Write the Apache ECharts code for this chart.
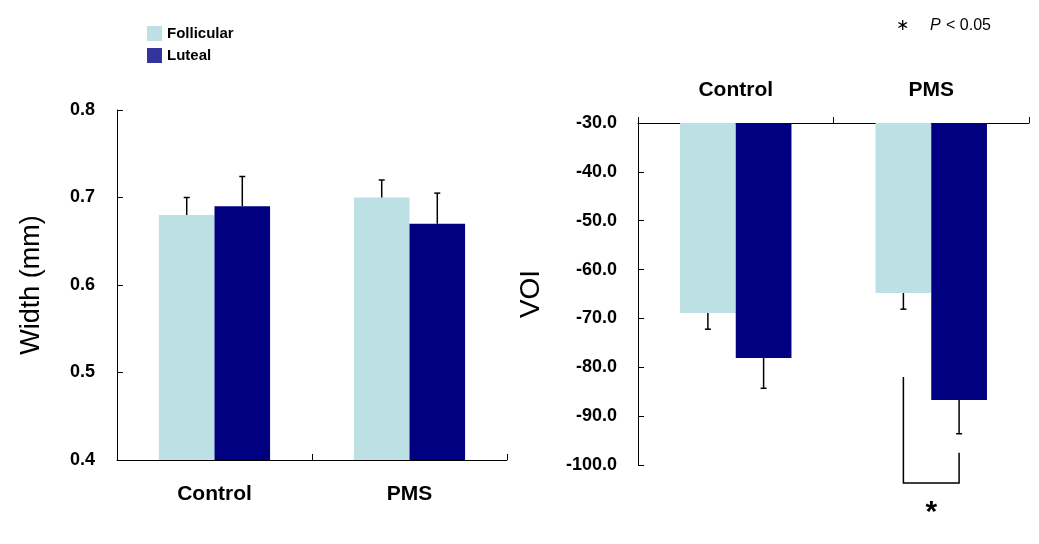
<!DOCTYPE html>
<html>
<head>
<meta charset="utf-8">
<script src="https://cdn.jsdelivr.net/npm/echarts@6/dist/echarts.min.js"></script>
<style>
html,body{margin:0;padding:0;background:#fff;}
#c{width:1039px;height:544px;}
</style>
</head>
<body>
<div id="c"></div>
<script>
const categories = ['Control', 'PMS'];
const seriesNames = ['Follicular', 'Luteal'];
const widthFollicular = [0.68, 0.70];
const widthLuteal = [0.69, 0.67];
const widthFollicularErr = [0.02, 0.02];
const widthLutealErr = [0.034, 0.035];
const voiFollicular = [-68.9, -64.8];
const voiLuteal = [-78.1, -86.7];
const voiFollicularErr = [3.3, 3.3];
const voiLutealErr = [6.2, 6.9];
const widthAxis = { min: 0.4, max: 0.8, step: 0.1 };
const voiAxis = { min: -100, max: -30, step: 10 };
// significance bracket (PMS group, VOI chart), in data units
const bracketGroup = 1;
const bracketLeftTop = -82;
const bracketRightTop = -97.5;
const bracketBottom = -103.7;
const sigLabel = '*';
const noteLabel = '< 0.05';

const FONT = 'Liberation Sans, Arial, sans-serif';
const follColor = '#BCE0E3';
const lutColor = '#000080';
const gapPct = 43;

function errData(means, errs, which, dir) {
  return means.map((m, i) => [i, m, errs[i], which, dir]);
}

function errRender(params, api) {
  const cat = api.value(0), mean = api.value(1), err = api.value(2), which = api.value(3), dir = api.value(4);
  const band = api.size([1, 0])[0];
  const barW = band * (1 - gapPct / 100) / 2;
  const c = api.coord([cat, mean]);
  const e = api.coord([cat, mean + dir * err]);
  const x = c[0] + (which === 0 ? -barW / 2 : barW / 2);
  const st = { stroke: '#000', lineWidth: 1.5 };
  return {
    type: 'group',
    children: [
      { type: 'line', shape: { x1: x, y1: c[1], x2: x, y2: e[1] }, style: st },
      { type: 'line', shape: { x1: x - 3, y1: e[1], x2: x + 3, y2: e[1] }, style: st }
    ]
  };
}

function bracketRender(params, api) {
  const cat = api.value(0);
  const band = api.size([1, 0])[0];
  const barW = band * (1 - gapPct / 100) / 2;
  const c = api.coord([cat, api.value(1)]);
  const xl = c[0] - barW / 2, xr = c[0] + barW / 2;
  const yl = api.coord([cat, api.value(1)])[1];
  const yr = api.coord([cat, api.value(2)])[1];
  const yb = api.coord([cat, api.value(3)])[1];
  return {
    type: 'group',
    children: [
      { type: 'polyline', shape: { points: [[xl, yl], [xl, yb], [xr, yb], [xr, yr]] },
        style: { stroke: '#000', lineWidth: 1.5, fill: null } },
      { type: 'text', x: c[0], y: yb + 30,
        style: { text: sigLabel, font: 'bold 30px ' + FONT, fill: '#000', align: 'center', verticalAlign: 'middle' } }
    ]
  };
}

const tickLabel = { color: '#000', fontFamily: FONT, fontWeight: 'bold', fontSize: 18 };
const catLabel = { color: '#000', fontFamily: FONT, fontWeight: 'bold', fontSize: 21 };
const axisLine = { show: true, lineStyle: { color: '#000', width: 1 } };

const chart = echarts.init(document.getElementById('c'));
chart.setOption({
  animation: false,
  backgroundColor: '#fff',
  legend: {
    orient: 'vertical', left: 142, top: 21,
    itemWidth: 15, itemHeight: 15, itemGap: 7,
    icon: 'rect',
    textStyle: { color: '#000', fontFamily: FONT, fontSize: 15, fontWeight: 'bold' },
    data: [
      { name: seriesNames[0] },
      { name: seriesNames[1], itemStyle: { color: '#333399' } }
    ]
  },
  graphic: [
    { type: 'text', left: 896, top: 18, style: { text: '\u2217', font: '16px DejaVu Sans', fill: '#000' } },
    { type: 'text', left: 930, top: 18, style: { text: 'P', font: 'italic 16px ' + FONT, fill: '#000' } },
    { type: 'text', left: 946, top: 18, style: { text: noteLabel, font: '16px ' + FONT, fill: '#000' } }
  ],
  grid: [
    { left: 117, top: 110, right: 532, bottom: 84 },
    { left: 638, top: 123, right: 10, bottom: 79 }
  ],
  xAxis: [
    { type: 'category', gridIndex: 0, data: categories, position: 'bottom',
      axisLine: axisLine, axisTick: { show: true, inside: true, length: 6, lineStyle: { color: '#000' } },
      axisLabel: Object.assign({ margin: 24 }, catLabel), splitLine: { show: false } },
    { type: 'category', gridIndex: 1, data: categories, position: 'top',
      axisLine: axisLine, axisTick: { show: true, inside: false, length: 6, lineStyle: { color: '#000' } },
      axisLabel: Object.assign({ margin: 22 }, catLabel), splitLine: { show: false } }
  ],
  yAxis: [
    { type: 'value', gridIndex: 0, min: widthAxis.min, max: widthAxis.max, interval: widthAxis.step,
      name: 'Width (mm)', nameLocation: 'middle', nameGap: 72,
      nameTextStyle: { color: '#000', fontFamily: FONT, fontSize: 27 },
      axisLine: axisLine, axisTick: { show: true, inside: true, length: 6, lineStyle: { color: '#000' } },
      axisLabel: Object.assign({ margin: 22, formatter: v => v.toFixed(1) }, tickLabel),
      splitLine: { show: false } },
    { type: 'value', gridIndex: 1, min: voiAxis.min, max: voiAxis.max, interval: voiAxis.step,
      name: 'VOI', nameLocation: 'middle', nameGap: 93,
      nameTextStyle: { color: '#000', fontFamily: FONT, fontSize: 28 },
      axisLine: axisLine, axisTick: { show: true, inside: true, length: 6, lineStyle: { color: '#000' } },
      axisLabel: Object.assign({ margin: 21, formatter: v => v.toFixed(1) }, tickLabel),
      splitLine: { show: false } }
  ],
  series: [
    { name: seriesNames[0], type: 'bar', xAxisIndex: 0, yAxisIndex: 0, data: widthFollicular,
      barGap: '0%', barCategoryGap: gapPct + '%', itemStyle: { color: follColor }, clip: true },
    { name: seriesNames[1], type: 'bar', xAxisIndex: 0, yAxisIndex: 0, data: widthLuteal,
      barGap: '0%', barCategoryGap: gapPct + '%', itemStyle: { color: lutColor }, clip: true },
    { name: seriesNames[0], type: 'bar', xAxisIndex: 1, yAxisIndex: 1, data: voiFollicular,
      barGap: '0%', barCategoryGap: gapPct + '%', itemStyle: { color: follColor }, clip: true },
    { name: seriesNames[1], type: 'bar', xAxisIndex: 1, yAxisIndex: 1, data: voiLuteal,
      barGap: '0%', barCategoryGap: gapPct + '%', itemStyle: { color: lutColor }, clip: true },
    { name: 'errW', type: 'custom', xAxisIndex: 0, yAxisIndex: 0, z: 5, clip: false,
      renderItem: errRender,
      data: errData(widthFollicular, widthFollicularErr, 0, 1).concat(errData(widthLuteal, widthLutealErr, 1, 1)) },
    { name: 'errV', type: 'custom', xAxisIndex: 1, yAxisIndex: 1, z: 5, clip: false,
      renderItem: errRender,
      data: errData(voiFollicular, voiFollicularErr, 0, -1).concat(errData(voiLuteal, voiLutealErr, 1, -1)) },
    { name: 'sig', type: 'custom', xAxisIndex: 1, yAxisIndex: 1, z: 5, clip: false,
      renderItem: bracketRender,
      data: [[bracketGroup, bracketLeftTop, bracketRightTop, bracketBottom]] }
  ]
});
</script>
</body>
</html>
